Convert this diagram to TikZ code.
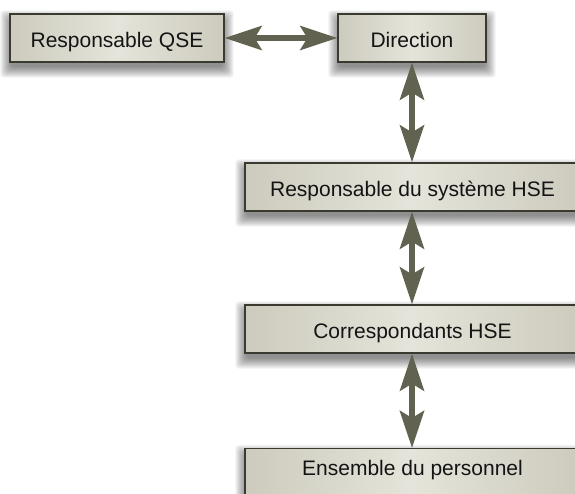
\documentclass[tikz,border=0pt]{standalone}
\usepackage{fontspec}
\setmainfont{Liberation Sans}
\usetikzlibrary{arrows.meta,calc,backgrounds}

\definecolor{boxedge}{HTML}{CDCBBD}
\definecolor{boxmid}{HTML}{E4E4DA}
\definecolor{boxline}{HTML}{3B3A31}
\definecolor{arrowcol}{HTML}{626250}
\definecolor{textcol}{HTML}{141414}

\tikzset{
  orgbox/.style={draw=boxline, line width=1.2pt,
    left color=boxedge, right color=boxedge, middle color=boxmid,
    minimum height=48pt, inner sep=0pt, text=textcol,
    font=\fontsize{21}{25}\selectfont,
    text height=20pt, text depth=1pt},
  link/.style={arrowcol, line width=6pt,
    {Stealth[length=37pt,width=24pt,inset=7pt]}-{Stealth[length=37pt,width=24pt,inset=7pt]}},
  softshadow/.style={fill=black, opacity=0.048, rounded corners=3pt}
}

\begin{document}
\begin{tikzpicture}[x=1pt, y=-1pt]
  \useasboundingbox (0,0) rectangle (575,493);

  % boxes of the organisation chart
  \node[orgbox, minimum width=214pt] (qse) at (117,38) {Responsable QSE};
  \node[orgbox, minimum width=148pt] (dir) at (412,38) {Direction};
  \node[orgbox, minimum width=335pt] (hse) at (412.5,187) {Responsable du système HSE};
  \node[orgbox, minimum width=335pt] (cor) at (412.5,329) {Correspondants HSE};
  \node[orgbox, minimum width=335pt, minimum height=52pt, anchor=north,
        text height=14pt, text depth=11.4pt] (ens) at (412.5,448) {Ensemble du personnel};

  % soft drop shadows behind the boxes
  \begin{scope}[on background layer]
    \foreach \n in {qse,dir,hse,cor,ens}{
      \foreach \k in {0,...,11}{
        \fill[softshadow] ($(\n.north west)+(2-\k,8-\k)$) rectangle ($(\n.south east)+(-2+\k,4+\k)$);
      }
    }
  \end{scope}

  % two-way links
  \draw[link] (qse.east) -- (dir.west);
  \draw[link] (dir.south) -- (hse.north -| dir.south);
  \draw[link] (hse.south -| dir.south) -- (cor.north -| dir.south);
  \draw[link] (cor.south -| dir.south) -- (ens.north -| dir.south);
\end{tikzpicture}
\end{document}
